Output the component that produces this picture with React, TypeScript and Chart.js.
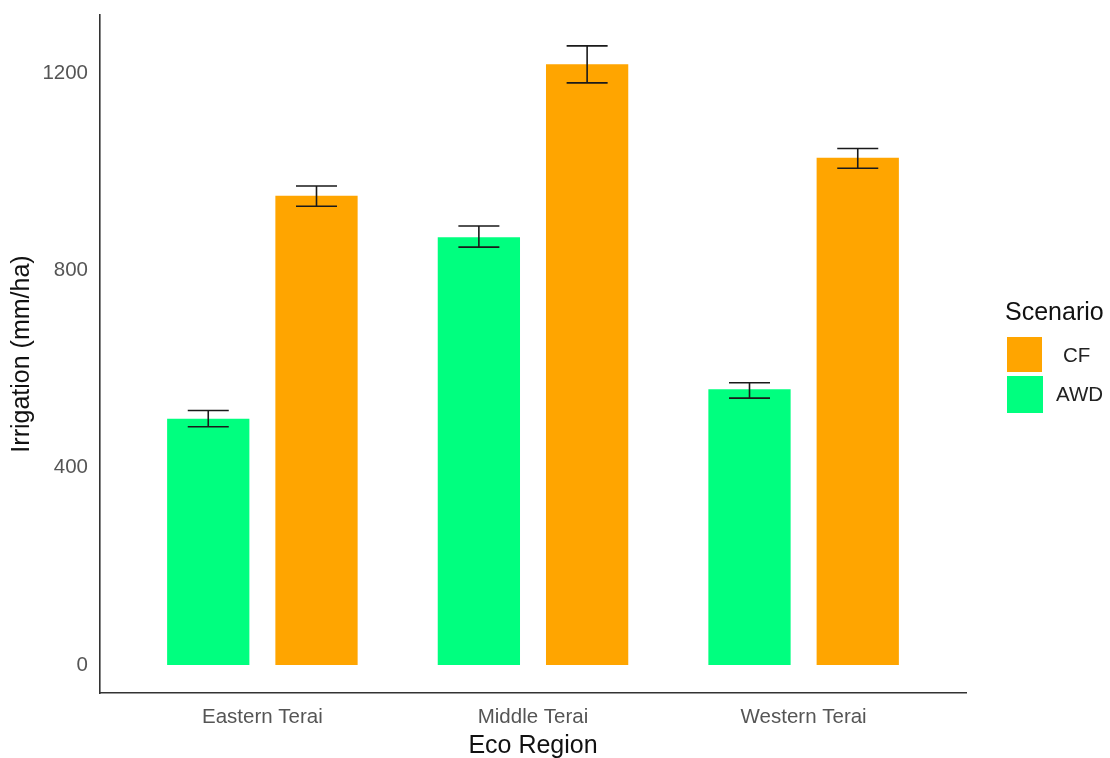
import React, { useEffect, useRef } from "react";
import { Chart, registerables } from "chart.js";

Chart.register(...registerables);

const regions = ["Eastern Terai", "Middle Terai", "Western Terai"];
const awdMean = [499, 867, 559];
const awdLow = [483, 847, 541];
const awdHigh = [516, 890, 572];
const cfMean = [951, 1218, 1028];
const cfLow = [930, 1180, 1007];
const cfHigh = [971, 1255, 1047];
const yTicks = [0, 400, 800, 1200];

const FONT = "'Liberation Sans', Arial, sans-serif";
const GREEN = "#00FF7F";
const ORANGE = "#FFA500";

const errorBarPlugin = {
  id: "errorBars",
  afterDatasetsDraw(chart: any) {
    const ctx = chart.ctx;
    const y = chart.scales.y;
    chart.data.datasets.forEach((ds: any, di: number) => {
      const meta = chart.getDatasetMeta(di);
      meta.data.forEach((el: any, i: number) => {
        const x = el.x;
        const top = y.getPixelForValue(ds.errHigh[i]);
        const bot = y.getPixelForValue(ds.errLow[i]);
        const hw = 20.5;
        ctx.save();
        ctx.strokeStyle = "#1a1a1a";
        ctx.lineWidth = 1.6;
        ctx.beginPath();
        ctx.moveTo(x, top);
        ctx.lineTo(x, bot);
        ctx.moveTo(x - hw, top);
        ctx.lineTo(x + hw, top);
        ctx.moveTo(x - hw, bot);
        ctx.lineTo(x + hw, bot);
        ctx.stroke();
        ctx.restore();
      });
    });
  },
};

export default function App() {
  const ref = useRef<HTMLCanvasElement | null>(null);
  useEffect(() => {
    if (!ref.current) return;
    const chart = new Chart(ref.current, {
      type: "bar",
      data: {
        labels: regions,
        datasets: [
          {
            label: "AWD",
            data: awdMean,
            backgroundColor: GREEN,
            errLow: awdLow,
            errHigh: awdHigh,
            categoryPercentage: 0.8,
            barPercentage: 0.76,
          } as any,
          {
            label: "CF",
            data: cfMean,
            backgroundColor: ORANGE,
            errLow: cfLow,
            errHigh: cfHigh,
            categoryPercentage: 0.8,
            barPercentage: 0.76,
          } as any,
        ],
      },
      options: {
        animation: false,
        responsive: false,
        maintainAspectRatio: false,
        layout: { padding: { top: 15, right: 144, left: 0, bottom: 0 } },
        plugins: {
          legend: { display: false },
          tooltip: { enabled: false },
        },
        scales: {
          x: {
            offset: false,
            grid: { display: false },
            border: { display: true, color: "#333333", width: 1.6 },
            ticks: {
              color: "#555555",
              font: { family: FONT, size: 20.5 },
              padding: 4.5,
            },
            title: {
              display: true,
              text: "Eco Region",
              color: "#111111",
              font: { family: FONT, size: 25 },
              padding: { top: 0, bottom: -3 },
            },
            afterFit: (s: any) => {
              s.height = 65;
              s.paddingLeft = 0;
              s.paddingRight = 0;
              s.paddingTop = 0;
              s.paddingBottom = 0;
              // ggplot-style discrete expansion of 0.6 units on each side
              s._startValue = -0.6;
              s._valueRange = regions.length - 1 + 1.2;
            },
          },
          y: {
            min: -56.8,
            max: 1317.6,
            grid: { display: false },
            border: { display: true, color: "#333333", width: 1.6 },
            afterBuildTicks: (s: any) => {
              s.ticks = yTicks.map((v) => ({ value: v }));
            },
            ticks: {
              color: "#555555",
              font: { family: FONT, size: 20.5 },
              padding: 4,
              callback: (v: any) => String(v),
            },
            title: {
              display: true,
              text: "Irrigation (mm/ha)",
              color: "#111111",
              font: { family: FONT, size: 25 },
              padding: { top: 7.5, bottom: 0 },
            },
            afterFit: (s: any) => {
              s.width = 100;
              s.paddingLeft = 0;
              s.paddingRight = 0;
              s.paddingTop = 0;
              s.paddingBottom = 0;
            },
          },
        },
      } as any,
      plugins: [errorBarPlugin],
    });
    return () => chart.destroy();
  }, []);

  return (
    <div
      style={{
        position: "fixed",
        left: 0,
        top: 0,
        width: 1110,
        height: 758,
        background: "#ffffff",
        fontFamily: FONT,
      }}
    >
      <canvas ref={ref} width={1110} height={758} style={{ display: "block" }} />
      <div style={{ position: "absolute", left: 1005, top: 297, fontSize: 25, color: "#111" }}>
        Scenario
      </div>
      <div
        style={{
          position: "absolute",
          left: 1007,
          top: 337,
          width: 35,
          height: 35,
          background: ORANGE,
        }}
      />
      <div
        style={{
          position: "absolute",
          left: 1007,
          top: 376,
          width: 36,
          height: 37,
          background: GREEN,
        }}
      />
      <div
        style={{
          position: "absolute",
          left: 1063,
          top: 343,
          fontSize: 20.5,
          color: "#222",
        }}
      >
        CF
      </div>
      <div
        style={{
          position: "absolute",
          left: 1056,
          top: 382,
          fontSize: 20.5,
          color: "#222",
        }}
      >
        AWD
      </div>
    </div>
  );
}
